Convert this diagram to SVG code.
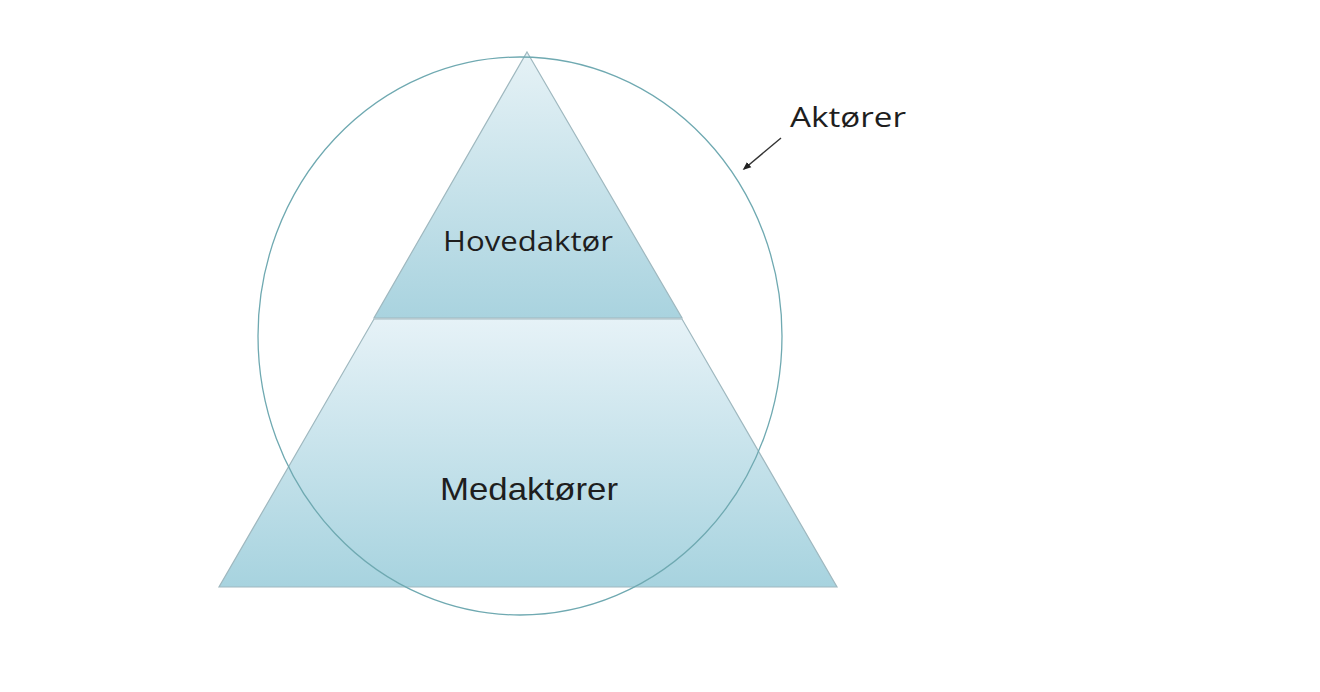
<svg xmlns="http://www.w3.org/2000/svg" width="1320" height="692" viewBox="0 0 1320 692">
  <defs>
    <linearGradient id="gTop" x1="0" y1="0" x2="0" y2="1">
      <stop offset="0" stop-color="#e6f2f6"/>
      <stop offset="1" stop-color="#a9d3df"/>
    </linearGradient>
    <linearGradient id="gBot" x1="0" y1="0" x2="0" y2="1">
      <stop offset="0" stop-color="#e6f2f7"/>
      <stop offset="1" stop-color="#a7d3df"/>
    </linearGradient>
    <marker id="arr" viewBox="0 0 10 10" refX="8" refY="5" markerWidth="6" markerHeight="6" orient="auto">
      <path d="M0,1 L10,5 L0,9 z" fill="#222"/>
    </marker>
    <style>
      .shape { stroke: #9fb8bf; stroke-width: 1.2; }
      .lbl { font-family: "Open Sans", "Liberation Sans", sans-serif; fill: #1e1e1e; }
      .lbl2 { font-family: "Liberation Sans", Arial, sans-serif; fill: #1e1e1e; }
    </style>
  </defs>
  <rect width="1320" height="692" fill="#ffffff"/>
  <g id="medaktorer">
    <polygon class="shape" points="374,319 682,319 837,587 219,587" fill="url(#gBot)"/>
    <text class="lbl2" x="529" y="500" font-size="32" text-anchor="middle" textLength="178" lengthAdjust="spacingAndGlyphs">Medaktører</text>
  </g>
  <g id="hovedaktor">
    <polygon class="shape" points="527,52 682,318 374,318" fill="url(#gTop)"/>
    <text class="lbl" x="528" y="251" font-size="28" text-anchor="middle" textLength="170" lengthAdjust="spacingAndGlyphs">Hovedaktør</text>
  </g>
  <g id="aktorer">
    <ellipse cx="520" cy="336" rx="262" ry="279" fill="none" stroke="#6fa9b1" stroke-width="1.3"/>
    <text class="lbl" x="790" y="127" font-size="28" textLength="116" lengthAdjust="spacingAndGlyphs">Aktører</text>
  </g>
  <g id="connectors">
    <line x1="781" y1="138" x2="744" y2="169" stroke="#333" stroke-width="1.4" marker-end="url(#arr)"/>
  </g>
</svg>
